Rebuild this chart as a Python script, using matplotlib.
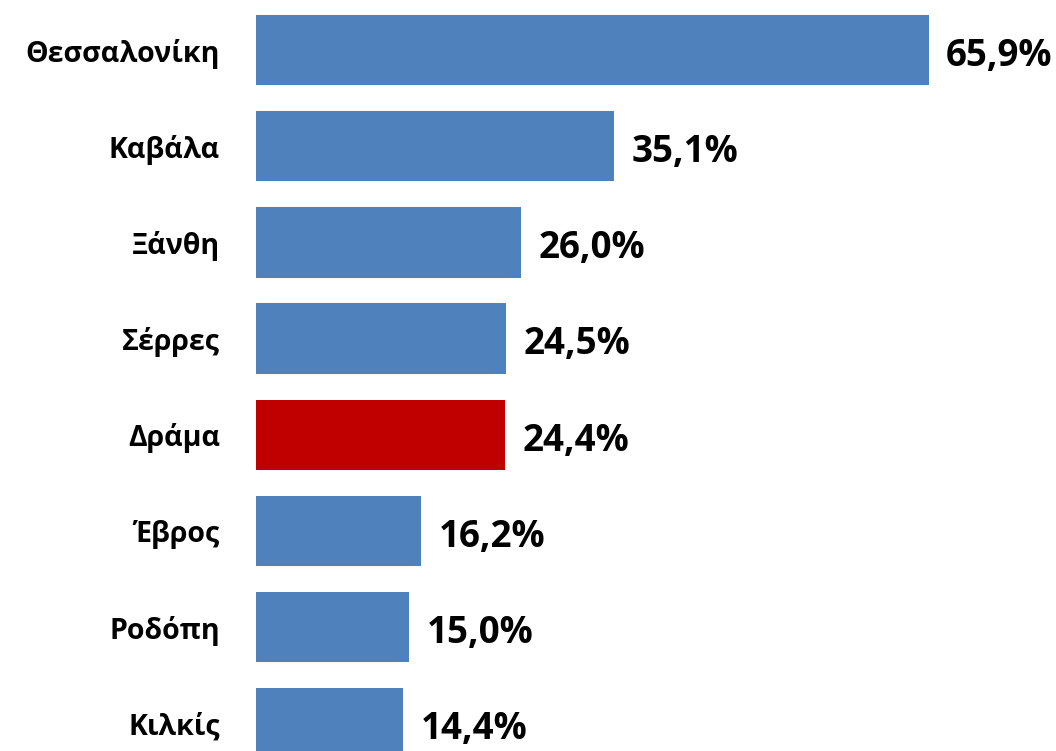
import matplotlib
matplotlib.use("Agg")
import matplotlib.pyplot as plt

plt.rcParams['font.family'] = ['Open Sans', 'DejaVu Sans']

regions = ['Θεσσαλονίκη', 'Καβάλα', 'Ξάνθη', 'Σέρρες', 'Δράμα', 'Έβρος', 'Ροδόπη', 'Κιλκίς']
values = [65.9, 35.1, 26.0, 24.5, 24.4, 16.2, 15.0, 14.4]
highlight = 'Δράμα'

colors = ['#C00000' if r == highlight else '#4F81BD' for r in regions]
ypos = list(range(len(regions)))

fig = plt.figure(figsize=(10.56, 7.51), dpi=100)
ax = fig.add_axes([256/1056, 0, 796/1056, 1])
ax.barh(ypos, values, height=0.73, color=colors)

ax.set_xlim(0, 78)
ax.set_ylim(7.287, -0.52)

# value labels
for y, v in zip(ypos, values):
    ax.text(v + 1.7, y + 0.06, ('%.1f%%' % v).replace('.', ','), va='center', ha='left',
            fontsize=26.5, fontweight='bold')

ax.set_yticks(ypos)
ax.set_yticklabels(regions, fontsize=20.5, fontweight='bold')
ax.tick_params(axis='y', length=0, pad=26)
ax.set_xticks([])
for s in ax.spines.values():
    s.set_visible(False)

fig.savefig('out.png', dpi=100)
